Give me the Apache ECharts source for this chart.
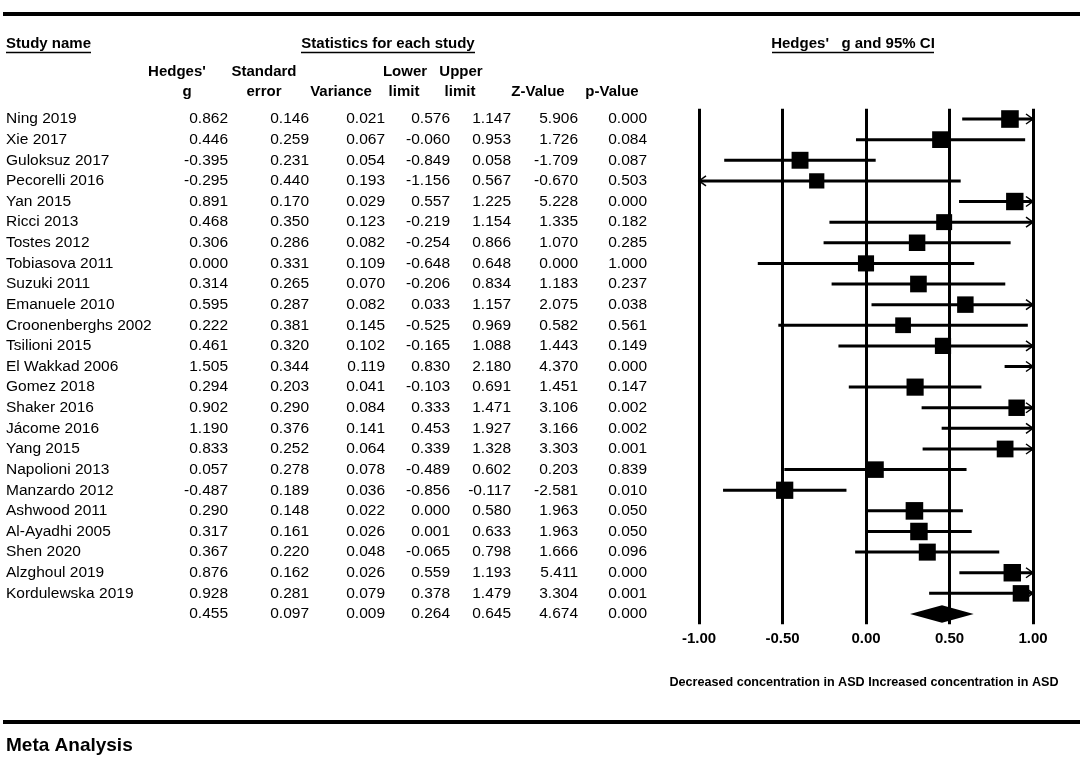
<!DOCTYPE html>
<html>
<head>
<meta charset="utf-8">
<script src="https://cdn.jsdelivr.net/npm/echarts@6/dist/echarts.min.js"></script>
<style>
html,body{margin:0;padding:0;background:#fff;}
#chart{width:1084px;height:761px;}
</style>
</head>
<body>
<div id="chart"></div>
<script>
// ---- data ----
const studyNames = ['Ning 2019','Xie 2017','Guloksuz 2017','Pecorelli 2016','Yan 2015','Ricci 2013','Tostes 2012','Tobiasova 2011','Suzuki 2011','Emanuele 2010','Croonenberghs 2002','Tsilioni 2015','El Wakkad 2006','Gomez 2018','Shaker 2016','Jácome 2016','Yang 2015','Napolioni 2013','Manzardo 2012','Ashwood 2011','Al-Ayadhi 2005','Shen 2020','Alzghoul 2019','Kordulewska 2019'];
const hedgesG    = [0.862,0.446,-0.395,-0.295,0.891,0.468,0.306,0.000,0.314,0.595,0.222,0.461,1.505,0.294,0.902,1.190,0.833,0.057,-0.487,0.290,0.317,0.367,0.876,0.928];
const stdErr     = [0.146,0.259,0.231,0.440,0.170,0.350,0.286,0.331,0.265,0.287,0.381,0.320,0.344,0.203,0.290,0.376,0.252,0.278,0.189,0.148,0.161,0.220,0.162,0.281];
const variance   = [0.021,0.067,0.054,0.193,0.029,0.123,0.082,0.109,0.070,0.082,0.145,0.102,0.119,0.041,0.084,0.141,0.064,0.078,0.036,0.022,0.026,0.048,0.026,0.079];
const lowerLimit = [0.576,-0.060,-0.849,-1.156,0.557,-0.219,-0.254,-0.648,-0.206,0.033,-0.525,-0.165,0.830,-0.103,0.333,0.453,0.339,-0.489,-0.856,0.000,0.001,-0.065,0.559,0.378];
const upperLimit = [1.147,0.953,0.058,0.567,1.225,1.154,0.866,0.648,0.834,1.157,0.969,1.088,2.180,0.691,1.471,1.927,1.328,0.602,-0.117,0.580,0.633,0.798,1.193,1.479];
const zValue     = [5.906,1.726,-1.709,-0.670,5.228,1.335,1.070,0.000,1.183,2.075,0.582,1.443,4.370,1.451,3.106,3.166,3.303,0.203,-2.581,1.963,1.963,1.666,5.411,3.304];
const pValue     = [0.000,0.084,0.087,0.503,0.000,0.182,0.285,1.000,0.237,0.038,0.561,0.149,0.000,0.147,0.002,0.002,0.001,0.839,0.010,0.050,0.050,0.096,0.000,0.001];
// pooled (summary) row: g, se, variance, lower, upper, z, p
const pooledRow  = [0.455,0.097,0.009,0.264,0.645,4.674,0.000];
const xTickLabels = ['-1.00','-0.50','0.00','0.50','1.00'];
const columnHeaders = [["Hedges'","g"],["Standard","error"],["","Variance"],["Lower","limit"],["Upper","limit"],["","Z-Value"],["","p-Value"]];
const footerText = 'Decreased concentration in ASD Increased concentration in ASD';

// ---- build rows ----
const rowLabels = studyNames.concat(['']);
const nStudies = studyNames.length;
const colG = hedgesG.concat([pooledRow[0]]);
const colSE = stdErr.concat([pooledRow[1]]);
const colVar = variance.concat([pooledRow[2]]);
const colLo = lowerLimit.concat([pooledRow[3]]);
const colHi = upperLimit.concat([pooledRow[4]]);
const colZ = zValue.concat([pooledRow[5]]);
const colP = pValue.concat([pooledRow[6]]);
const tableCols = [colG, colSE, colVar, colLo, colHi, colZ, colP];

const FONT = '"Liberation Sans", Arial, Helvetica, sans-serif';
const colRight = [228, 309, 385, 450, 511, 578, 647];
const headerCenter = [[177,187],[264,264],[341,341],[405,404],[461,460],[538,538],[612,612]];
const GRID_TOP = 108.7, GRID_H = 515.6;

const forestData = rowLabels.map((_, i) => [i, colG[i], colLo[i], colHi[i], colSE[i], i === nStudies ? 1 : 0]);
const tableData = rowLabels.map((_, i) => [330, i]);

function renderForest(params, api) {
  const i = api.value(0), g = api.value(1), lo = api.value(2), hi = api.value(3), se = api.value(4), summ = api.value(5);
  const children = [];
  const yc = api.coord([0, i])[1];
  if (summ) {
    const pL = api.coord([lo, i]), pR = api.coord([hi, i]), pC = api.coord([g, i]);
    children.push({type:'polygon', shape:{points:[[pL[0],yc],[pC[0],yc-8.8],[pR[0],yc],[pC[0],yc+8.8]]}, style:{fill:'#000'}});
    return {type:'group', children};
  }
  const cl = Math.max(lo, -1), ch = Math.min(hi, 1);
  const x1 = api.coord([cl, i])[0], x2 = api.coord([ch, i])[0];
  children.push({type:'line', shape:{x1, y1:yc, x2, y2:yc}, style:{stroke:'#000', lineWidth:3}});
  if (hi > 1) children.push({type:'polyline', shape:{points:[[x2-7,yc-5],[x2,yc],[x2-7,yc+5]]}, style:{stroke:'#000', lineWidth:1.5, fill:null}});
  if (lo < -1) children.push({type:'polyline', shape:{points:[[x1+7,yc-5],[x1,yc],[x1+7,yc+5]]}, style:{stroke:'#000', lineWidth:1.5, fill:null}});
  if (g >= -1 && g <= 1) {
    const s = Math.max(14, 17.6 - 8 * (se - 0.146));
    const xc = api.coord([g, i])[0];
    children.push({type:'rect', shape:{x:xc - s/2, y:yc - s/2, width:s, height:s}, style:{fill:'#000'}});
  }
  return {type:'group', children};
}

function renderTable(params, api) {
  const i = api.value(1);
  const children = [];
  const yc = api.coord([0, i])[1];
  children.push({type:'text', x: api.coord([6, i])[0], y: yc,
    style:{text: rowLabels[i], fill:'#000', fontSize:15.5, fontFamily:FONT, align:'left', verticalAlign:'middle', textAlign:'left', textVerticalAlign:'middle'}});
  tableCols.forEach((col, c) => {
    children.push({type:'text', x: api.coord([colRight[c], i])[0], y: yc,
      style:{text: col[i].toFixed(3), fill:'#000', fontSize:15.5, fontFamily:FONT, align:'right', verticalAlign:'middle', textAlign:'right', textVerticalAlign:'middle'}});
  });
  return {type:'group', children};
}

function txt(text, x, y, size, weight, align) {
  return {type:'text', x, y, silent:true, style:{text, fill:'#000', font: weight + ' ' + size + 'px ' + FONT, fontSize:size, fontWeight:weight, fontFamily:FONT,
    align, verticalAlign:'middle', textAlign:align, textVerticalAlign:'middle'}};
}
function hline(x1, x2, y, w) {
  return {type:'line', silent:true, shape:{x1, y1:y, x2, y2:y}, style:{stroke:'#000', lineWidth:w}};
}

const graphics = [
  hline(3, 1080, 14, 4),
  txt('Study name', 6, 44, 15, 'bold', 'left'),
  hline(6, 91, 52.5, 1.5),
  txt('Statistics for each study', 388, 44, 15, 'bold', 'center'),
  hline(301, 475, 52.5, 1.5),
  txt("Hedges'   g and 95% CI", 853, 44, 15, 'bold', 'center'),
  hline(772, 934, 52.5, 1.5),
  txt(footerText, 864, 683, 12.6, 'bold', 'center'),
  hline(3, 1080, 722, 4),
  txt('Meta Analysis', 6, 746, 19, 'bold', 'left')
];
columnHeaders.forEach((h, c) => {
  if (h[0]) graphics.push(txt(h[0], headerCenter[c][0], 72, 15, 'bold', 'center'));
  graphics.push(txt(h[1], headerCenter[c][1], 92, 15, 'bold', 'center'));
});

const chart = echarts.init(document.getElementById('chart'), null, {renderer:'canvas'});
chart.setOption({
  animation: false,
  backgroundColor: '#fff',
  grid: [
    {left: 699, width: 334, top: GRID_TOP, height: GRID_H},
    {left: 0, width: 660, top: GRID_TOP, height: GRID_H}
  ],
  xAxis: [
    {gridIndex:0, type:'value', min:-1, max:1, interval:0.5,
     axisLine:{show:false}, axisTick:{show:false},
     splitLine:{show:true, lineStyle:{color:'#000', width:3}},
     axisLabel:{color:'#000', fontWeight:'bold', fontSize:15, fontFamily:FONT, margin:7,
       formatter: (v) => xTickLabels[Math.round((v + 1) / 0.5)]}},
    {gridIndex:1, type:'value', min:0, max:660, show:false}
  ],
  yAxis: [
    {gridIndex:0, type:'category', data: rowLabels, inverse:true, show:false},
    {gridIndex:1, type:'category', data: rowLabels, inverse:true, show:false}
  ],
  series: [
    {type:'custom', xAxisIndex:0, yAxisIndex:0, clip:false, renderItem: renderForest,
     encode:{x:[1,2,3], y:0}, data: forestData, silent:true},
    {type:'custom', xAxisIndex:1, yAxisIndex:1, clip:false, renderItem: renderTable,
     encode:{x:0, y:1}, data: tableData, silent:true}
  ],
  graphic: graphics
});
</script>
</body>
</html>
